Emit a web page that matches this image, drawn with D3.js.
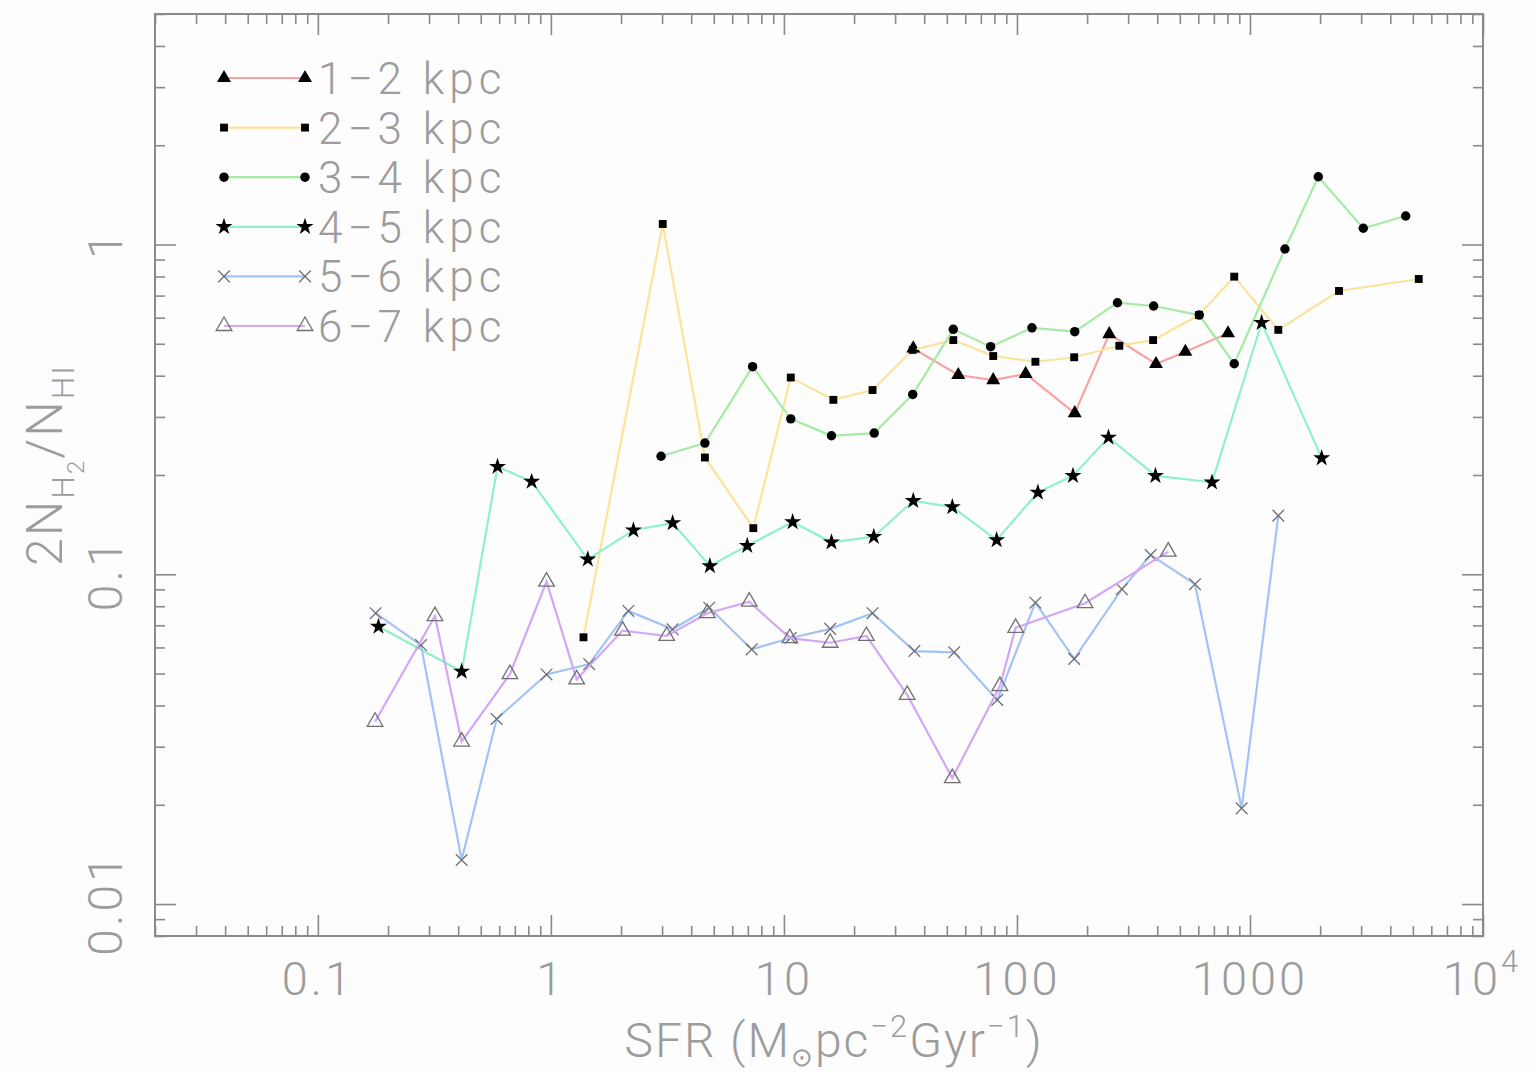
<!DOCTYPE html>
<html>
<head>
<meta charset="utf-8">
<script src="https://cdn.jsdelivr.net/npm/d3@7"></script>
<style>
  body { margin: 0; background: #fdfdfd; }
  svg { display: block; }
  text { font-family: "Roboto", "DejaVu Sans", sans-serif; font-weight: 300; fill: #9c9c9c; }
</style>
</head>
<body>
<svg width="1534" height="1074"></svg>
<script>
// values
const sfr12 = [35.9, 56.0, 79.1, 109, 177, 249, 395, 528, 805];
const ratio12 = [0.484, 0.402, 0.388, 0.405, 0.308, 0.535, 0.434, 0.473, 0.538];

const sfr23 = [1.38, 3.02, 4.58, 7.39, 10.7, 16.3, 24.0, 35.7, 53.3, 79.1, 120, 176, 275, 384, 604, 856, 1323, 2410, 5300];
const ratio23 = [0.0644, 1.154, 0.226, 0.138, 0.395, 0.338, 0.362, 0.479, 0.513, 0.459, 0.441, 0.455, 0.493, 0.513, 0.611, 0.799, 0.551, 0.723, 0.786];

const sfr34 = [2.97, 4.58, 7.34, 10.7, 16.0, 24.4, 35.7, 53.3, 77.1, 116, 177, 270, 386, 606, 856, 1413, 1964, 3064, 4659];
const ratio34 = [0.228, 0.250, 0.426, 0.296, 0.263, 0.268, 0.351, 0.553, 0.490, 0.559, 0.544, 0.666, 0.651, 0.611, 0.435, 0.969, 1.605, 1.120, 1.22];

const sfr45 = [0.182, 0.414, 0.590, 0.827, 1.44, 2.26, 3.33, 4.81, 6.96, 10.9, 16.0, 24.3, 35.9, 52.8, 81.8, 123, 174, 247, 393, 687, 1122, 2031];
const ratio45 = [0.0694, 0.0507, 0.212, 0.191, 0.111, 0.136, 0.143, 0.106, 0.122, 0.144, 0.125, 0.130, 0.167, 0.160, 0.127, 0.177, 0.199, 0.260, 0.199, 0.190, 0.579, 0.225];

const sfr56 = [0.177, 0.277, 0.414, 0.585, 0.958, 1.46, 2.15, 3.33, 4.78, 7.27, 10.7, 15.8, 24.0, 36.3, 53.8, 82.3, 120, 176, 282, 375, 581, 921, 1323];
const ratio56 = [0.0762, 0.0610, 0.0136, 0.0364, 0.0497, 0.0534, 0.0774, 0.0681, 0.0792, 0.0592, 0.0641, 0.0683, 0.0762, 0.0585, 0.0580, 0.0416, 0.0820, 0.0554, 0.0901, 0.1144, 0.0933, 0.0195, 0.1506];

const sfr67 = [0.176, 0.318, 0.414, 0.667, 0.958, 1.29, 2.03, 3.14, 4.69, 7.10, 10.6, 15.8, 22.6, 33.8, 52.8, 84.5, 98.7, 196, 446];
const ratio67 = [0.0357, 0.0747, 0.0311, 0.0498, 0.0950, 0.0480, 0.0675, 0.0650, 0.0762, 0.0826, 0.0640, 0.0620, 0.0650, 0.0431, 0.0241, 0.0458, 0.0688, 0.0817, 0.1171];

const seriesLabels = ["1\u22122  kpc", "2\u22123  kpc", "3\u22124  kpc", "4\u22125  kpc", "5\u22126  kpc", "6\u22127  kpc"];
const xTickValues = [0.1, 1, 10, 100, 1000, 10000];
const xTickLabels = ["0.1", "1", "10", "100", "1000", "10"];
const yTickValues = [0.01, 0.1, 1];
const yTickLabels = ["0.01", "0.1", "1"];

const svg = d3.select("svg");
const margin = {top: 14, right: 51, bottom: 138, left: 155};
const width = +svg.attr("width") - margin.left - margin.right;
const height = +svg.attr("height") - margin.top - margin.bottom;
const g = svg.append("g").attr("transform", `translate(${margin.left},${margin.top})`);

const x = d3.scaleLog().domain([0.02, 10000]).range([0, width]);
const y = d3.scaleLog().domain([0.008, 5]).range([height, 0]);

const symTimes = d3.symbolTimes || d3.symbolCross;
const series = [
    {sfr: sfr12, ratio: ratio12, color: "#f7a3a3", symbol: d3.symbolTriangle, size: 85, fill: "#000", stroke: "none"},
    {sfr: sfr23, ratio: ratio23, color: "#fde29a", symbol: d3.symbolSquare, size: 62, fill: "#000", stroke: "none"},
    {sfr: sfr34, ratio: ratio34, color: "#a4eba4", symbol: d3.symbolCircle, size: 70, fill: "#000", stroke: "none"},
    {sfr: sfr45, ratio: ratio45, color: "#8ff0cc", symbol: d3.symbolStar, size: 90, fill: "#000", stroke: "none"},
    {sfr: sfr56, ratio: ratio56, color: "#a3c2f8", symbol: symTimes, size: 90, fill: "none", stroke: "#707070"},
    {sfr: sfr67, ratio: ratio67, color: "#d3a6f6", symbol: d3.symbolTriangle, size: 105, fill: "none", stroke: "#707070"}
];

// ticks: minor and major, pointing inward on all four sides
const xMinor = x.ticks().filter(v => !xTickValues.includes(v));
const yMinor = y.ticks().filter(v => !yTickValues.includes(v));

const axes = [
    [() => d3.axisBottom(x), `translate(0,${height})`, xMinor, xTickValues],
    [() => d3.axisTop(x), "translate(0,0)", xMinor, xTickValues],
    [() => d3.axisLeft(y), "translate(0,0)", yMinor, yTickValues],
    [() => d3.axisRight(y), `translate(${width},0)`, yMinor, yTickValues]
];
axes.forEach(([makeAxis, tr, minor, major]) => {
    [[minor, 10], [major, 21]].forEach(([vals, len]) => {
        const a = g.append("g").attr("transform", tr)
            .call(makeAxis().tickValues(vals).tickSize(-len).tickFormat(""));
        a.select(".domain").remove();
        a.selectAll("line").attr("stroke", "#8a8a8a").attr("stroke-width", 1.6);
    });
});

g.append("rect")
    .attr("width", width).attr("height", height)
    .attr("fill", "none").attr("stroke", "#8a8a8a").attr("stroke-width", 2);

// tick labels
g.selectAll(".xlab").data(xTickValues).enter()
    .append("text")
    .attr("class", "xlab")
    .attr("x", (d, i) => x(d) + (i === 5 ? -1 : 0))
    .attr("y", height + 59)
    .attr("text-anchor", "middle")
    .attr("font-size", 47)
    .attr("letter-spacing", 3)
    .text((d, i) => xTickLabels[i])
    .filter((d, i) => i === 5)
    .append("tspan").attr("font-size", 31).attr("dy", -23).text("4");

g.selectAll(".ylab").data(yTickValues).enter()
    .append("text")
    .attr("class", "ylab")
    .attr("transform", d => `translate(${-33},${y(d)}) rotate(-90)`)
    .attr("text-anchor", "middle")
    .attr("font-size", 48)
    .attr("letter-spacing", 3)
    .text((d, i) => yTickLabels[i]);

// axis titles
const xt = svg.append("text")
    .attr("x", 834).attr("y", 1057)
    .attr("text-anchor", "middle")
    .attr("font-size", 48)
    .attr("letter-spacing", 2);
xt.append("tspan").text("SFR (M");
xt.append("tspan").attr("font-size", 26).attr("dy", 9).text("\u2299");
xt.append("tspan").attr("dy", -9).text("pc");
xt.append("tspan").attr("font-size", 31).attr("dy", -20).text("\u22122");
xt.append("tspan").attr("dy", 20).text("Gyr");
xt.append("tspan").attr("font-size", 31).attr("dy", -20).text("\u22121");
xt.append("tspan").attr("dy", 20).text(")");

const yt = svg.append("text")
    .attr("transform", "translate(62,465) rotate(-90)")
    .attr("text-anchor", "middle")
    .attr("font-size", 50)
    .attr("letter-spacing", 2);
yt.append("tspan").text("2N");
yt.append("tspan").attr("font-size", 32).attr("dy", 12).text("H");
yt.append("tspan").attr("font-size", 24).attr("dy", 10).text("2");
yt.append("tspan").attr("dy", -22).text("/N");
yt.append("tspan").attr("font-size", 32).attr("dy", 12).text("HI");

// lines and markers
const line = d3.line().x(d => x(d[0])).y(d => y(d[1]));

function drawMarkers(sel, s) {
    sel.attr("d", d3.symbol().type(s.symbol).size(s.size))
        .attr("fill", s.fill)
        .attr("stroke", s.stroke)
        .attr("stroke-width", 1.3);
}

series.forEach(s => {
    const pts = d3.zip(s.sfr, s.ratio);
    g.append("path")
        .datum(pts)
        .attr("fill", "none")
        .attr("stroke", s.color)
        .attr("stroke-width", 2.2)
        .attr("d", line);
    g.selectAll(null).data(pts).enter()
        .append("path")
        .attr("transform", d => `translate(${x(d[0])},${y(d[1])})`)
        .call(drawMarkers, s);
});

// legend
const legend = svg.append("g");
const rowY = d3.scaleLinear().domain([0, 5]).range([78, 326]);
series.forEach((s, i) => {
    const yy = rowY(i);
    legend.append("line")
        .attr("x1", 224).attr("x2", 305).attr("y1", yy).attr("y2", yy)
        .attr("stroke", s.color).attr("stroke-width", 2.2);
    [224, 305].forEach(xx => {
        legend.append("path")
            .attr("transform", `translate(${xx},${yy})`)
            .call(drawMarkers, s);
    });
    legend.append("text")
        .attr("x", 318).attr("y", yy + 16)
        .attr("font-size", 44)
        .attr("letter-spacing", 5)
        .text(seriesLabels[i]);
});
</script>
</body>
</html>
